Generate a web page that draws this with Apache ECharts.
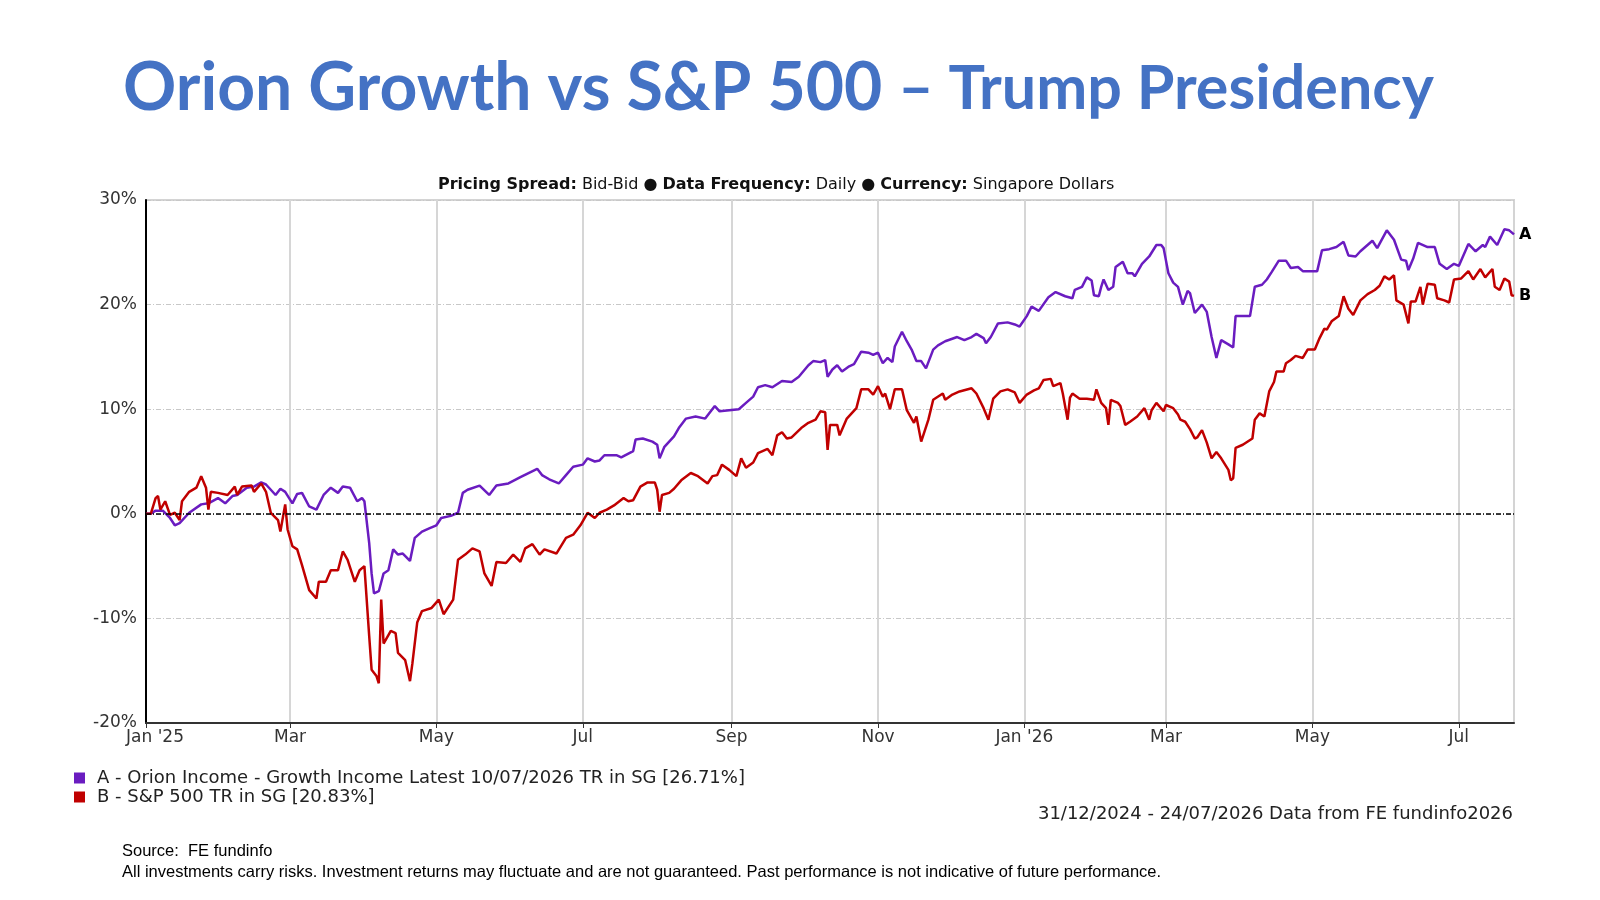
<!DOCTYPE html>
<html>
<head>
<meta charset="utf-8">
<title>Orion Growth vs S&P 500</title>
<script src="https://cdn.jsdelivr.net/npm/echarts@6/dist/echarts.min.js"></script>
<style>
  html, body { margin: 0; padding: 0; background: #fff; }
  #chart { width: 1600px; height: 900px; }
</style>
</head>
<body>
<div id="chart"></div>
<script>
// month ticks on the x axis
const tickDates = ['2024-12-31', '2025-03-01', '2025-05-01', '2025-07-01', '2025-09-01', '2025-11-01',
  '2026-01-01', '2026-03-01', '2026-05-01', '2026-07-01'];
const tickLabels = ["Jan '25", 'Mar', 'May', 'Jul', 'Sep', 'Nov', "Jan '26", 'Mar', 'May', 'Jul'];
const startDate = '2024-12-31';
const endDate = '2026-07-24';

const nameA = 'A - Orion Income - Growth Income Latest 10/07/2026 TR in SG [26.71%]';
const nameB = 'B - S&P 500 TR in SG [20.83%]';

// A - Orion (purple), % return
const orionDates = [
  '2024-12-31','2025-01-02','2025-01-04','2025-01-07','2025-01-10','2025-01-12','2025-01-14','2025-01-18','2025-01-23','2025-01-26',
  '2025-01-30','2025-02-02','2025-02-05','2025-02-07','2025-02-11','2025-02-14','2025-02-17','2025-02-19','2025-02-23','2025-02-25',
  '2025-02-27','2025-03-02','2025-03-04','2025-03-06','2025-03-09','2025-03-12','2025-03-15','2025-03-18','2025-03-21','2025-03-23',
  '2025-03-26','2025-03-29','2025-03-31','2025-04-01','2025-04-03','2025-04-04','2025-04-05','2025-04-07','2025-04-09','2025-04-11',
  '2025-04-13','2025-04-15','2025-04-17','2025-04-20','2025-04-22','2025-04-25','2025-04-28','2025-05-01','2025-05-03','2025-05-07',
  '2025-05-10','2025-05-12','2025-05-14','2025-05-19','2025-05-23','2025-05-26','2025-05-31','2025-06-05','2025-06-12','2025-06-14',
  '2025-06-17','2025-06-21','2025-06-24','2025-06-27','2025-07-01','2025-07-03','2025-07-06','2025-07-08','2025-07-10','2025-07-15',
  '2025-07-17','2025-07-22','2025-07-23','2025-07-26','2025-07-30','2025-08-01','2025-08-02','2025-08-04','2025-08-08','2025-08-10',
  '2025-08-13','2025-08-17','2025-08-21','2025-08-25','2025-08-27','2025-08-31','2025-09-04','2025-09-07','2025-09-10','2025-09-12',
  '2025-09-15','2025-09-18','2025-09-22','2025-09-26','2025-09-29','2025-10-03','2025-10-05','2025-10-08','2025-10-10','2025-10-11',
  '2025-10-13','2025-10-15','2025-10-17','2025-10-20','2025-10-22','2025-10-25','2025-10-28','2025-10-30','2025-11-01','2025-11-03',
  '2025-11-05','2025-11-07','2025-11-08','2025-11-11','2025-11-13','2025-11-15','2025-11-17','2025-11-19','2025-11-21','2025-11-24',
  '2025-11-26','2025-11-29','2025-12-04','2025-12-07','2025-12-10','2025-12-12','2025-12-15','2025-12-16','2025-12-18','2025-12-21',
  '2025-12-25','2025-12-28','2025-12-30','2026-01-02','2026-01-04','2026-01-07','2026-01-11','2026-01-14','2026-01-18','2026-01-21',
  '2026-01-22','2026-01-25','2026-01-27','2026-01-29','2026-01-30','2026-02-01','2026-02-02','2026-02-03','2026-02-05','2026-02-07',
  '2026-02-08','2026-02-11','2026-02-13','2026-02-15','2026-02-16','2026-02-19','2026-02-22','2026-02-25','2026-02-27','2026-02-28',
  '2026-03-02','2026-03-04','2026-03-06','2026-03-08','2026-03-10','2026-03-11','2026-03-13','2026-03-16','2026-03-18','2026-03-20',
  '2026-03-22','2026-03-24','2026-03-27','2026-03-29','2026-03-30','2026-04-01','2026-04-05','2026-04-07','2026-04-10','2026-04-12',
  '2026-04-14','2026-04-17','2026-04-20','2026-04-22','2026-04-25','2026-04-27','2026-05-03','2026-05-05','2026-05-08','2026-05-11',
  '2026-05-14','2026-05-16','2026-05-19','2026-05-21','2026-05-26','2026-05-28','2026-06-01','2026-06-04','2026-06-07','2026-06-09',
  '2026-06-10','2026-06-12','2026-06-14','2026-06-18','2026-06-21','2026-06-23','2026-06-26','2026-06-29','2026-07-01','2026-07-05',
  '2026-07-08','2026-07-11','2026-07-12','2026-07-14','2026-07-17','2026-07-20','2026-07-22','2026-07-24'
];
const orionReturns = [
  0, 0.0, 0.3, 0.3, -0.4, -1.1, -0.9, 0.1, 0.9, 1.0,
  1.5, 1.0, 1.7, 1.8, 2.5, 2.6, 3.0, 2.8, 1.8, 2.4,
  2.1, 1.0, 1.9, 2.0, 0.7, 0.4, 1.8, 2.5, 2.0, 2.6,
  2.5, 1.2, 1.5, 1.2, -2.8, -5.7, -7.6, -7.4, -5.7, -5.4,
  -3.4, -3.9, -3.8, -4.5, -2.3, -1.7, -1.4, -1.1, -0.4, -0.2,
  0.1, 2.0, 2.3, 2.7, 1.8, 2.7, 2.9, 3.5, 4.3, 3.7,
  3.3, 2.9, 3.7, 4.5, 4.7, 5.3, 5.0, 5.1, 5.6, 5.6,
  5.4, 6.0, 7.1, 7.2, 6.9, 6.6, 5.3, 6.4, 7.4, 8.2,
  9.1, 9.3, 9.1, 10.3, 9.8, 9.9, 10.0, 10.6, 11.2, 12.1,
  12.3, 12.1, 12.7, 12.6, 13.1, 14.2, 14.6, 14.5, 14.7, 13.1,
  13.8, 14.2, 13.6, 14.1, 14.3, 15.5, 15.4, 15.2, 15.4, 14.4,
  14.9, 14.5, 16.0, 17.4, 16.5, 15.7, 14.6, 14.6, 13.9, 15.7,
  16.1, 16.5, 16.9, 16.6, 16.9, 17.2, 16.8, 16.3, 16.9, 18.2,
  18.3, 18.1, 17.9, 18.9, 19.8, 19.4, 20.7, 21.2, 20.8, 20.6,
  21.4, 21.7, 22.6, 22.3, 20.9, 20.8, 21.7, 22.4, 21.4, 21.7,
  23.6, 24.1, 23.0, 23.0, 22.7, 23.9, 24.6, 25.7, 25.7, 25.4,
  23.0, 22.1, 21.7, 20.0, 21.3, 21.1, 19.2, 20.0, 19.3, 16.9,
  14.9, 16.6, 16.2, 15.9, 18.9, 18.9, 18.9, 21.7, 21.9, 22.4,
  23.1, 24.2, 24.2, 23.5, 23.6, 23.2, 23.2, 25.2, 25.3, 25.5,
  26.0, 24.7, 24.6, 25.1, 26.1, 25.4, 27.1, 26.2, 24.3, 24.2,
  23.3, 24.4, 25.9, 25.5, 25.5, 23.9, 23.4, 23.9, 23.7, 25.8,
  25.1, 25.7, 25.5, 26.5, 25.7, 27.2, 27.1, 26.71
];

// B - S&P 500 (red), % return
const spxDates = [
  '2024-12-31','2025-01-02','2025-01-04','2025-01-05','2025-01-06','2025-01-08','2025-01-10','2025-01-12','2025-01-14','2025-01-15',
  '2025-01-18','2025-01-21','2025-01-23','2025-01-25','2025-01-26','2025-01-27','2025-01-30','2025-02-03','2025-02-06','2025-02-07',
  '2025-02-09','2025-02-13','2025-02-14','2025-02-17','2025-02-19','2025-02-21','2025-02-24','2025-02-25','2025-02-27','2025-02-28',
  '2025-03-02','2025-03-04','2025-03-06','2025-03-09','2025-03-12','2025-03-13','2025-03-16','2025-03-18','2025-03-21','2025-03-23',
  '2025-03-25','2025-03-28','2025-03-30','2025-04-01','2025-04-03','2025-04-04','2025-04-06','2025-04-07','2025-04-08','2025-04-09',
  '2025-04-12','2025-04-14','2025-04-15','2025-04-18','2025-04-20','2025-04-21','2025-04-23','2025-04-25','2025-04-29','2025-05-02',
  '2025-05-04','2025-05-08','2025-05-10','2025-05-13','2025-05-16','2025-05-19','2025-05-21','2025-05-24','2025-05-26','2025-05-30',
  '2025-06-02','2025-06-05','2025-06-07','2025-06-10','2025-06-13','2025-06-15','2025-06-20','2025-06-24','2025-06-27','2025-06-30',
  '2025-07-03','2025-07-06','2025-07-08','2025-07-11','2025-07-14','2025-07-18','2025-07-20','2025-07-22','2025-07-25','2025-07-28',
  '2025-07-31','2025-08-01','2025-08-02','2025-08-03','2025-08-06','2025-08-08','2025-08-11','2025-08-15','2025-08-18','2025-08-22',
  '2025-08-24','2025-08-26','2025-08-28','2025-08-31','2025-09-03','2025-09-05','2025-09-07','2025-09-10','2025-09-12','2025-09-16',
  '2025-09-18','2025-09-20','2025-09-22','2025-09-24','2025-09-26','2025-09-30','2025-10-03','2025-10-06','2025-10-08','2025-10-10',
  '2025-10-11','2025-10-12','2025-10-15','2025-10-16','2025-10-19','2025-10-21','2025-10-23','2025-10-25','2025-10-28','2025-10-30',
  '2025-11-01','2025-11-03','2025-11-04','2025-11-06','2025-11-08','2025-11-11','2025-11-13','2025-11-16','2025-11-17','2025-11-19',
  '2025-11-22','2025-11-24','2025-11-28','2025-11-29','2025-12-02','2025-12-05','2025-12-10','2025-12-12','2025-12-15','2025-12-17',
  '2025-12-19','2025-12-22','2025-12-25','2025-12-28','2025-12-30','2026-01-02','2026-01-05','2026-01-07','2026-01-09','2026-01-12',
  '2026-01-13','2026-01-16','2026-01-17','2026-01-19','2026-01-20','2026-01-21','2026-01-24','2026-01-27','2026-01-30','2026-01-31',
  '2026-02-02','2026-02-04','2026-02-05','2026-02-06','2026-02-09','2026-02-10','2026-02-12','2026-02-14','2026-02-17','2026-02-20',
  '2026-02-22','2026-02-23','2026-02-25','2026-02-28','2026-03-01','2026-03-04','2026-03-06','2026-03-07','2026-03-09','2026-03-11',
  '2026-03-13','2026-03-14','2026-03-16','2026-03-18','2026-03-20','2026-03-22','2026-03-24','2026-03-27','2026-03-28','2026-03-29',
  '2026-03-30','2026-04-02','2026-04-06','2026-04-07','2026-04-09','2026-04-11','2026-04-13','2026-04-15','2026-04-16','2026-04-19',
  '2026-04-20','2026-04-22','2026-04-24','2026-04-27','2026-04-29','2026-05-02','2026-05-04','2026-05-06','2026-05-07','2026-05-09',
  '2026-05-12','2026-05-14','2026-05-16','2026-05-18','2026-05-21','2026-05-24','2026-05-27','2026-05-29','2026-05-31','2026-06-02',
  '2026-06-04','2026-06-05','2026-06-08','2026-06-10','2026-06-11','2026-06-13','2026-06-15','2026-06-16','2026-06-18','2026-06-21',
  '2026-06-22','2026-06-25','2026-06-27','2026-06-29','2026-07-02','2026-07-05','2026-07-07','2026-07-10','2026-07-12','2026-07-15',
  '2026-07-16','2026-07-18','2026-07-20','2026-07-22','2026-07-23','2026-07-24'
];
const spxReturns = [
  0, 0, 1.5, 1.7, 0.4, 1.2, -0.1, 0.1, -0.6, 1.2,
  2.1, 2.5, 3.6, 2.5, 0.4, 2.1, 2.0, 1.8, 2.6, 1.8,
  2.6, 2.7, 2.1, 2.9, 2.1, 0.1, -0.6, -1.7, 0.9, -1.5,
  -3.1, -3.4, -4.9, -7.3, -8.1, -6.5, -6.5, -5.4, -5.4, -3.6,
  -4.4, -6.5, -5.4, -5.0, -11.7, -14.9, -15.5, -16.2, -8.2, -12.4,
  -11.2, -11.4, -13.3, -14.0, -16.0, -14.3, -10.4, -9.3, -9.0, -8.2,
  -9.6, -8.2, -4.4, -3.9, -3.3, -3.6, -5.7, -6.9, -4.6, -4.7,
  -3.9, -4.6, -3.3, -2.9, -3.9, -3.4, -3.8, -2.3, -2.0, -1.1,
  0.1, -0.4, 0.1, 0.4, 0.8, 1.5, 1.2, 1.3, 2.6, 3.0,
  3.0, 2.3, 0.2, 1.8, 2.0, 2.4, 3.2, 3.9, 3.6, 2.9,
  3.6, 3.7, 4.7, 4.2, 3.6, 5.3, 4.4, 4.9, 5.8, 6.2,
  5.6, 7.5, 7.8, 7.2, 7.3, 8.2, 8.7, 9.0, 9.8, 9.7,
  6.1, 8.5, 8.5, 7.5, 9.1, 9.6, 10.1, 11.9, 11.9, 11.4,
  12.2, 11.2, 11.5, 10.0, 11.9, 11.9, 9.9, 8.7, 9.3, 6.9,
  9.0, 10.9, 11.5, 10.9, 11.4, 11.7, 12.0, 11.5, 10.1, 9.0,
  11.0, 11.7, 11.9, 11.6, 10.6, 11.4, 11.8, 12.0, 12.8, 12.9,
  12.2, 12.5, 11.5, 9.0, 11.1, 11.5, 11.0, 11.0, 10.9, 11.9,
  10.6, 10.1, 8.5, 10.9, 10.6, 10.3, 8.5, 8.8, 9.3, 10.1,
  9.0, 9.9, 10.6, 9.8, 10.4, 10.1, 9.5, 9.0, 8.8, 8.1,
  7.2, 7.3, 8.0, 6.8, 5.3, 5.9, 5.3, 4.2, 3.2, 3.4,
  6.3, 6.6, 7.2, 9.0, 9.6, 9.3, 11.7, 12.6, 13.6, 13.6,
  14.4, 14.7, 15.1, 14.9, 15.7, 15.7, 16.8, 17.7, 17.6, 18.4,
  18.9, 20.8, 19.6, 19.0, 20.4, 21.0, 21.4, 21.8, 22.7, 22.4,
  22.8, 20.4, 20.0, 18.2, 20.3, 20.3, 21.7, 20.0, 22.0, 21.9,
  20.6, 20.4, 20.2, 22.4, 22.5, 23.2, 22.4, 23.4, 22.6, 23.4,
  21.7, 21.4, 22.5, 22.2, 20.9, 20.83
];

const FONT = 'Liberation Sans, Arial, sans-serif';
const WIDE = 'DejaVu Sans, Verdana, sans-serif';
// x is counted in days from the start date
const DAY = 86400000;
const t0 = echarts.number.parseDate(startDate).getTime();
const dayOf = d => Math.round((echarts.number.parseDate(d).getTime() - t0) / DAY);
const tickDays = tickDates.map(dayOf);
const labelOf = {};
tickDays.forEach((d, i) => { labelOf[d] = tickLabels[i]; });

const chart = echarts.init(document.getElementById('chart'));

const option = {
  backgroundColor: '#fff',
  animation: false,
  title: [
    {
      left: 118,
      top: 44,
      text: '{a|Orion Growth vs S&P 500}{b|– Trump Presidency}',
      textStyle: {
        rich: {
          a: { fontFamily: 'Lato', fontWeight: 'bold', fontSize: 66, color: '#4472C4', lineHeight: 80 },
          b: { fontFamily: 'Lato', fontWeight: 'bold', fontSize: 61, color: '#4472C4', lineHeight: 80, padding: [0, 0, 0, 16] }
        }
      }
    },
    {
      left: 433,
      top: 172,
      text: '{b|Pricing Spread:} Bid-Bid ● {b|Data Frequency:} Daily ● {b|Currency:} Singapore Dollars',
      textStyle: {
        fontFamily: WIDE, fontSize: 16, fontWeight: 'normal', color: '#111',
        rich: { b: { fontFamily: WIDE, fontSize: 16, fontWeight: 'bold', color: '#111' } }
      }
    }
  ],
  legend: {
    orient: 'vertical',
    left: 69,
    top: 764,
    itemGap: 1,
    itemWidth: 11,
    itemHeight: 11,
    icon: 'rect',
    data: [nameA, nameB],
    textStyle: { fontFamily: WIDE, fontSize: 18, color: '#222', padding: [0, 0, 0, 7] }
  },
  grid: {
    left: 146, right: 86, top: 200, bottom: 177,
    show: true, borderColor: '#d4d4d4', borderWidth: 2
  },
  xAxis: {
    type: 'value',
    min: 0,
    max: dayOf(endDate),
    axisLine: { onZero: false, lineStyle: { color: '#333', width: 2 } },
    axisTick: { show: true, customValues: tickDays, length: 5, lineStyle: { color: '#333', width: 1 } },
    axisLabel: {
      customValues: tickDays,
      fontFamily: WIDE, fontSize: 17, color: '#333', margin: 6,
      formatter: v => {
        const s = labelOf[v] || '';
        return v === tickDays[0] ? '{f|' + s + '}' : s;
      },
      rich: { f: { fontFamily: WIDE, fontSize: 17, color: '#333', padding: [0, 0, 0, 18] } }
    },
    splitLine: { show: true, lineStyle: { color: '#d6d6d6', width: 2 } }
  },
  yAxis: {
    type: 'value',
    min: -20, max: 30, interval: 10,
    axisLine: { show: true, lineStyle: { color: '#000', width: 2 } },
    axisTick: { show: false },
    axisLabel: { formatter: '{value}%', fontFamily: WIDE, fontSize: 17, color: '#333', margin: 9 },
    splitLine: { lineStyle: { color: '#c8c8c8', width: 1, type: [5, 2, 1, 2] } }
  },
  series: [
    {
      name: nameA,
      type: 'line',
      data: orionDates.map((d, i) => [dayOf(d), orionReturns[i]]),
      symbol: 'none',
      color: '#6A1CC0',
      lineStyle: { width: 2.5, color: '#6A1CC0' },
      endLabel: { show: true, formatter: 'A', color: '#000', fontWeight: 'bold', fontSize: 16, fontFamily: WIDE, distance: 5 },
      markLine: {
        silent: true,
        symbol: 'none',
        label: { show: false },
        lineStyle: { color: '#000', width: 1.5, type: [5, 2, 1, 2] },
        data: [{ yAxis: 0 }]
      },
      z: 2
    },
    {
      name: nameB,
      type: 'line',
      data: spxDates.map((d, i) => [dayOf(d), spxReturns[i]]),
      symbol: 'none',
      color: '#C00000',
      lineStyle: { width: 2.5, color: '#C00000' },
      endLabel: { show: true, formatter: 'B', color: '#000', fontWeight: 'bold', fontSize: 16, fontFamily: WIDE, distance: 5 },
      z: 3
    }
  ],
  graphic: [
    {
      type: 'text', right: 87, top: 805,
      style: { text: '31/12/2024 - 24/07/2026 Data from FE fundinfo2026', fontFamily: WIDE, fontSize: 18, fill: '#222' }
    },
    {
      type: 'text', left: 122, top: 843,
      style: { text: 'Source:  FE fundinfo', fontFamily: FONT, fontSize: 16.5, fill: '#000' }
    },
    {
      type: 'text', left: 122, top: 864,
      style: {
        text: 'All investments carry risks. Investment returns may fluctuate and are not guaranteed. Past performance is not indicative of future performance.',
        fontFamily: FONT, fontSize: 16.5, fill: '#000'
      }
    }
  ]
};

chart.setOption(option);
</script>
</body>
</html>
